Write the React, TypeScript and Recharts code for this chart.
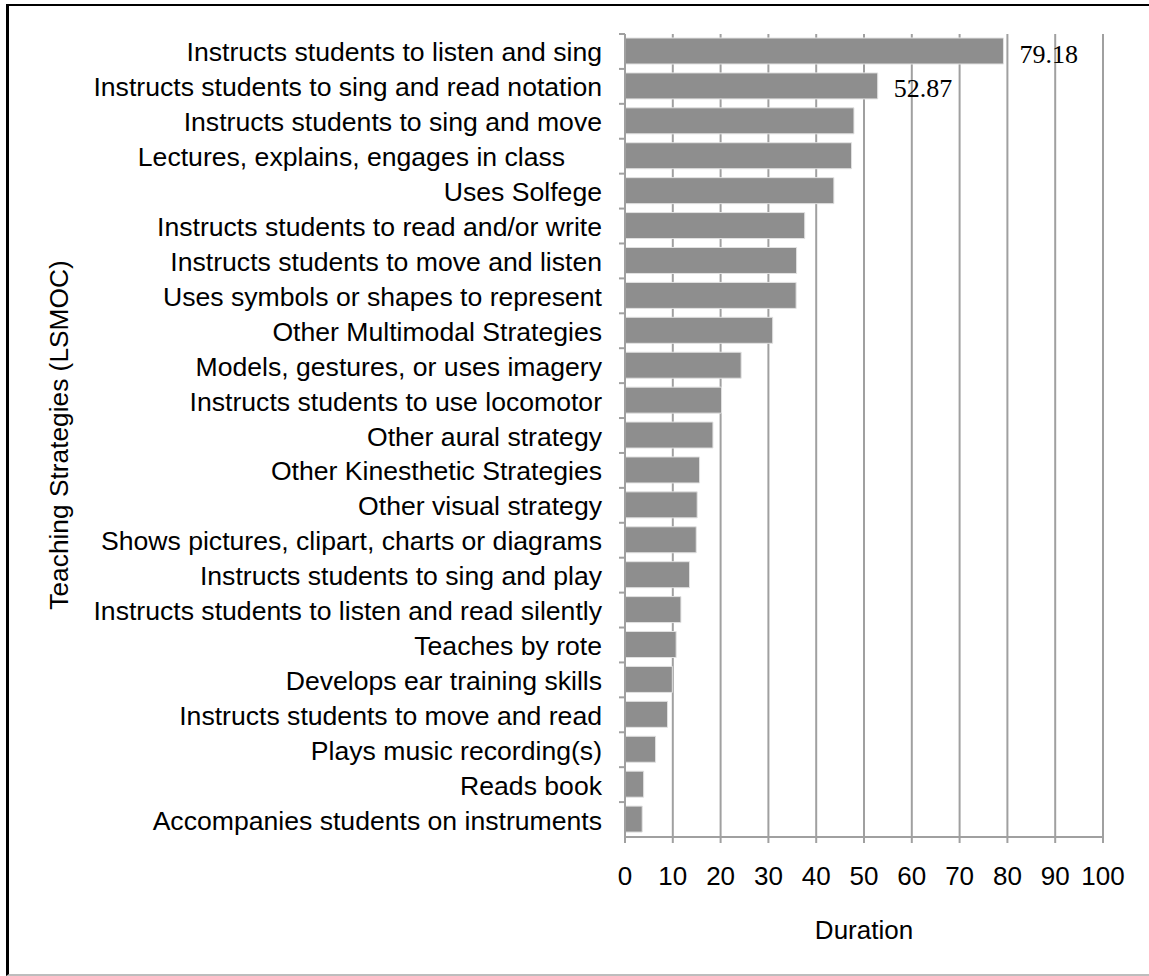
import { BarChart, Bar, XAxis, YAxis, CartesianGrid, LabelList } from "recharts"

const categories = [
  "Instructs students to listen and sing",
  "Instructs students to sing and read notation",
  "Instructs students to sing and move",
  "Lectures, explains, engages in class\u00a0\u00a0\u00a0\u00a0\u00a0",
  "Uses Solfege",
  "Instructs students to read and/or write",
  "Instructs students to move and listen",
  "Uses symbols or shapes to represent",
  "Other Multimodal Strategies",
  "Models, gestures, or uses imagery",
  "Instructs students to use locomotor",
  "Other aural strategy",
  "Other Kinesthetic Strategies",
  "Other visual strategy",
  "Shows pictures, clipart, charts or diagrams",
  "Instructs students to sing and play",
  "Instructs students to listen and read silently",
  "Teaches by rote",
  "Develops ear training skills",
  "Instructs students to move and read",
  "Plays music recording(s)",
  "Reads book",
  "Accompanies students on instruments",
]

const durations = [
  79.18, 52.87, 47.9, 47.4, 43.7, 37.6, 35.9, 35.8, 30.9, 24.3, 20.2, 18.4,
  15.6, 15.1, 14.9, 13.5, 11.7, 10.7, 9.9, 8.9, 6.4, 3.9, 3.6,
]

// only these two bars carry a value label in the original
const labeledValues = [79.18, 52.87]

const xTicks = [0, 10, 20, 30, 40, 50, 60, 70, 80, 90, 100]

const data = categories.map((name, i) => ({ name, value: durations[i] }))

const FONT = '"Liberation Sans", Arial, Helvetica, sans-serif'
const GRID = "#a0a0a0"
const BAND = 803 / 23

function CategoryTick(props: any) {
  const { x, y, payload } = props
  return (
    <g>
      <line x1={x + 17} x2={x + 23} y1={y - BAND / 2} y2={y - BAND / 2} stroke={GRID} strokeWidth={2} />
      <text x={x} y={y + 10} textAnchor="end" fontSize={26.6} fontFamily={FONT} fill="#000">
        {payload.value}
      </text>
    </g>
  )
}

function ValueLabel(props: any) {
  const { x, y, width, height, value } = props
  if (!labeledValues.includes(value)) return null
  return (
    <text
      x={x + width + 16}
      y={y + height / 2 + 11.5}
      fontSize={26}
      fontFamily='"Liberation Serif", "Times New Roman", serif'
      fill="#000"
    >
      {value.toFixed(2)}
    </text>
  )
}

function YTitle() {
  return (
    <text
      x={68}
      y={435}
      transform="rotate(-90 68 435)"
      textAnchor="middle"
      fontSize={26.3}
      fontFamily={FONT}
      fill="#000"
    >
      Teaching Strategies (LSMOC)
    </text>
  )
}

export default function App() {
  return (
    <div style={{ position: "absolute", left: 0, top: 0, width: 1149, height: 976, background: "#fff" }}>
      {/* frame */}
      <div
        style={{
          position: "absolute",
          left: 6,
          top: 4,
          width: 1143,
          height: 972,
          borderTop: "2px solid #000",
          borderLeft: "3px solid #000",
          borderBottom: "2px solid #bdbdbd",
          boxSizing: "border-box",
        }}
      />
      <div style={{ position: "absolute", left: 0, top: 0 }}>
        <BarChart
          width={1149}
          height={976}
          data={data}
          layout="vertical"
          margin={{ top: 34, right: 46, bottom: 0, left: 0 }}
        >
          <CartesianGrid horizontal={false} stroke={GRID} strokeWidth={2} />
          <XAxis
            type="number"
            domain={[0, 100]}
            ticks={xTicks}
            interval={0}
            height={139}
            axisLine={{ stroke: GRID, strokeWidth: 2 }}
            tickLine={{ stroke: GRID, strokeWidth: 2 }}
            tickSize={6}
            tickMargin={24}
            tick={{ fill: "#000", fontSize: 26, fontFamily: FONT }}
            label={{
              value: "Duration",
              position: "insideBottom",
              offset: 37,
              fill: "#000",
              fontSize: 26,
              fontFamily: FONT,
            }}
          />
          <YAxis
            type="category"
            dataKey="name"
            width={625}
            interval={0}
            axisLine={{ stroke: GRID, strokeWidth: 2 }}
            tickLine={false}
            tickSize={6}
            tickMargin={17}
            tick={<CategoryTick />}
            label={<YTitle />}
          />
          <Bar dataKey="value" fill="#8e8e8e" stroke="#e2e2e2" strokeWidth={1} barSize={26} isAnimationActive={false}>
            <LabelList dataKey="value" content={<ValueLabel />} />
          </Bar>
        </BarChart>
      </div>
    </div>
  )
}
